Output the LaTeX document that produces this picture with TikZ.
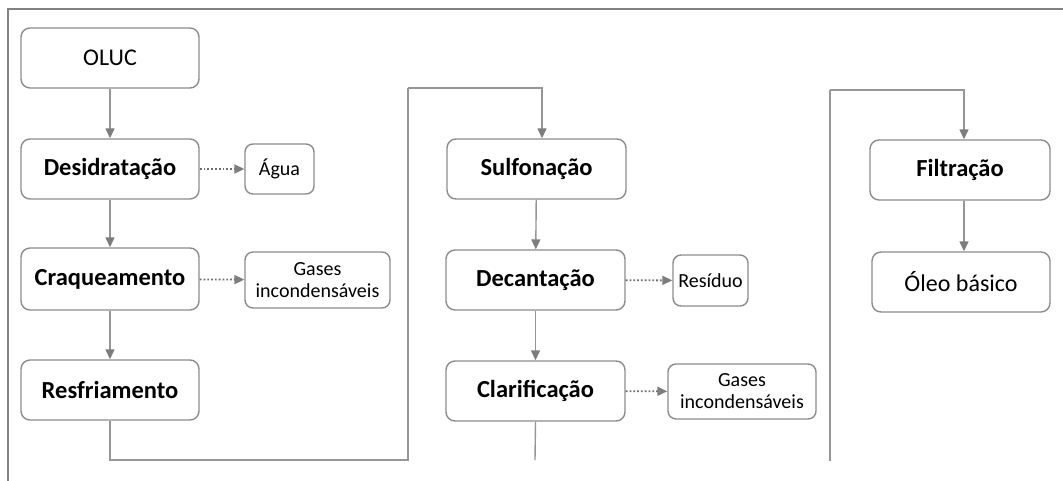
\documentclass[tikz,border=0pt]{standalone}
\usepackage{fontspec}
\setmainfont{Carlito}
\usetikzlibrary{arrows.meta}
\definecolor{boxline}{RGB}{140,140,140}
\definecolor{conn}{RGB}{150,150,150}
\definecolor{frame}{RGB}{130,130,130}
\definecolor{tip}{RGB}{125,125,125}
\definecolor{dots}{RGB}{110,110,110}
\tikzset{
  mainbox/.style={draw=boxline, line width=1.4pt, rounded corners=9pt, fill=white,
    minimum width=178pt, minimum height=60pt, inner sep=0pt,
    font=\fontsize{24.5}{29}\selectfont\bfseries, align=center},
  plainbox/.style={mainbox, font=\fontsize{24}{29}\selectfont},
  sidebox/.style={draw=boxline, line width=1.4pt, rounded corners=8pt, fill=white,
    inner sep=0pt, font=\fontsize{20}{25}\selectfont, align=center},
  flow/.style={draw=conn, line width=1.4pt, -{Triangle[length=10pt,width=9pt,color=tip]}},
  link/.style={draw=conn, line width=1.4pt},
  sideflow/.style={draw=dots, line width=1.8pt, dotted, -{Triangle[length=10pt,width=9pt,color=tip]}}
}
\begin{document}
\begin{tikzpicture}[x=1pt,y=-1pt]
\useasboundingbox (0,0) rectangle (1063,480);
% frame
\draw[draw=frame, line width=1.5pt] (8,481) -- (8,9) -- (1064,9);
% left column
\node[plainbox] (oluc) at (110,58) {OLUC};
\node[mainbox] (desid) at (110,169) {Desidratação};
\node[sidebox, minimum width=69pt, minimum height=50pt] (agua) at (279.5,169) {Água};
\node[mainbox, minimum height=62pt] (craq) at (110,279) {Craqueamento};
\node[sidebox, minimum width=145pt, minimum height=56pt] (gas1) at (317.5,280) {Gases\\[-3pt]incondensáveis};
\node[mainbox] (resf) at (110,390) {Resfriamento};
% middle column
\node[mainbox, minimum width=179pt] (sulf) at (536.5,169) {Sulfonação};
\node[mainbox, minimum width=179pt] (decan) at (535.5,280) {Decantação};
\node[sidebox, minimum width=75pt, minimum height=51pt] (resid) at (710.5,280.5) {Resíduo};
\node[mainbox, minimum width=179pt] (clar) at (535.5,391) {Clarificação};
\node[sidebox, minimum width=148pt, minimum height=55pt] (gas2) at (742,391.5) {Gases\\[-3pt]incondensáveis};
% right column
\node[mainbox, minimum width=180pt] (filt) at (960,170) {Filtração};
\node[plainbox] (oleo) at (961,282) {Óleo básico};
% coordinates
\coordinate (r1) at (408,460);
\coordinate (r2) at (408,88);
\coordinate (c1) at (535,460);
\coordinate (f1) at (830,461);
\coordinate (f2) at (830,90);
% connectors
\path[flow] (oluc) -- (desid);
\path[flow] (desid) -- (craq);
\path[flow] (craq) -- (resf);
\path[sideflow] (desid) -- (agua);
\path[sideflow] (craq) -- (gas1);
\path[link] (resf.south) |- (r1) -- (r2);
\path[flow] (r2) -| ([xshift=5.5pt]sulf.north);
\path[flow] (sulf) -- (decan);
\path[flow] (decan) -- (clar);
\path[sideflow] (decan) -- (resid);
\path[sideflow] (clar) -- (gas2);
\path[link] (clar.south) -- (c1);
\path[link] (f1) -- (f2);
\path[flow] (f2) -| ([xshift=4pt]filt.north);
\path[flow] ([xshift=4pt]filt.south) -- ([xshift=3pt]oleo.north);
\end{tikzpicture}
\end{document}
